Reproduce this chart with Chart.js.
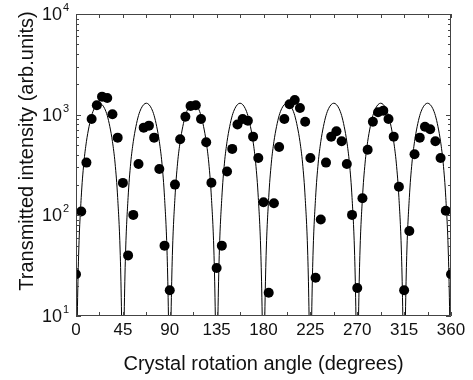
<!DOCTYPE html>
<html>
<head>
<meta charset="utf-8">
<script src="https://cdn.jsdelivr.net/npm/chart.js@4.4.0/dist/chart.umd.min.js"></script>
<style>
  html, body { margin: 0; padding: 0; background: #fff; }
</style>
</head>
<body>
<canvas id="myChart" width="473" height="380"></canvas>
<script>
// measured points (every 5 degrees)
const angles = [0, 5, 10, 15, 20, 25, 30, 35, 40, 45, 50, 55, 60, 65, 70, 75, 80, 85, 90,
  95, 100, 105, 110, 115, 120, 125, 130, 135, 140, 145, 150, 155, 160, 165, 170, 175, 180,
  185, 190, 195, 200, 205, 210, 215, 220, 225, 230, 235, 240, 245, 250, 255, 260, 265, 270,
  275, 280, 285, 290, 295, 300, 305, 310, 315, 320, 325, 330, 335, 340, 345, 350, 355, 360];
const intensity = [26, 109, 334, 906, 1240, 1510, 1465, 1010, 591, 210, 40, 101, 324, 743, 778, 591, 289, 50, 18,
  202, 570, 955, 1220, 1240, 906, 532, 211, 30, 50, 272, 457, 800, 906, 871, 605, 371, 135,
  17, 132, 478, 906, 1268, 1400, 1166, 851, 371, 24, 91, 334, 605, 684, 544, 324, 101, 19,
  148, 449, 851, 1056, 1096, 906, 605, 192, 18, 70, 405, 591, 760, 716, 544, 371, 111, 26];

// solid curve, one row per 45 degree lobe
const curveAngles = [
  0, 1.25, 2.5, 5, 7.5, 10, 12.5, 15, 17.5, 20, 22.5, 25, 27.5, 30, 32.5, 35, 37.5, 40, 42.5, 43.75,
  45, 46.25, 47.5, 50, 52.5, 55, 57.5, 60, 62.5, 65, 67.5, 70, 72.5, 75, 77.5, 80, 82.5, 85, 87.5, 88.75,
  90, 91.25, 92.5, 95, 97.5, 100, 102.5, 105, 107.5, 110, 112.5, 115, 117.5, 120, 122.5, 125, 127.5, 130, 132.5, 133.75,
  135, 136.25, 137.5, 140, 142.5, 145, 147.5, 150, 152.5, 155, 157.5, 160, 162.5, 165, 167.5, 170, 172.5, 175, 177.5, 178.75,
  180, 181.25, 182.5, 185, 187.5, 190, 192.5, 195, 197.5, 200, 202.5, 205, 207.5, 210, 212.5, 215, 217.5, 220, 222.5, 223.75,
  225, 226.25, 227.5, 230, 232.5, 235, 237.5, 240, 242.5, 245, 247.5, 250, 252.5, 255, 257.5, 260, 262.5, 265, 267.5, 268.75,
  270, 271.25, 272.5, 275, 277.5, 280, 282.5, 285, 287.5, 290, 292.5, 295, 297.5, 300, 302.5, 305, 307.5, 310, 312.5, 313.75,
  315, 316.25, 317.5, 320, 322.5, 325, 327.5, 330, 332.5, 335, 337.5, 340, 342.5, 345, 347.5, 350, 352.5, 355, 357.5, 358.75,
  360];
const curveValues = [
  1, 10, 40, 150, 330, 540, 760, 980, 1150, 1260, 1300, 1260, 1150, 980, 760, 540, 330, 150, 40, 10,
  1, 10, 40, 150, 330, 540, 760, 980, 1150, 1260, 1300, 1260, 1150, 980, 760, 540, 330, 150, 40, 10,
  1, 10, 40, 150, 330, 540, 760, 980, 1150, 1260, 1300, 1260, 1150, 980, 760, 540, 330, 150, 40, 10,
  1, 10, 40, 150, 330, 540, 760, 980, 1150, 1260, 1300, 1260, 1150, 980, 760, 540, 330, 150, 40, 10,
  1, 10, 40, 150, 330, 540, 760, 980, 1150, 1260, 1300, 1260, 1150, 980, 760, 540, 330, 150, 40, 10,
  1, 10, 40, 150, 330, 540, 760, 980, 1150, 1260, 1300, 1260, 1150, 980, 760, 540, 330, 150, 40, 10,
  1, 10, 40, 150, 330, 540, 760, 980, 1150, 1260, 1300, 1260, 1150, 980, 760, 540, 330, 150, 40, 10,
  1, 10, 40, 150, 330, 540, 760, 980, 1150, 1260, 1300, 1260, 1150, 980, 760, 540, 330, 150, 40, 10,
  1];

const xTickMarks = [0, 22.5, 45, 67.5, 90, 112.5, 135, 157.5, 180, 202.5, 225, 247.5, 270, 292.5, 315, 337.5, 360];
const yDecades = [10, 100, 1000, 10000];
const yExponents = ['1', '2', '3', '4'];
const yTitle = 'Transmitted intensity (arb.units)';

const FONT = '"Liberation Sans", Arial, Helvetica, sans-serif';

const points = [];
for (let i = 0; i < angles.length; i++) {
    points.push({ x: angles[i], y: intensity[i] });
}
const curve = [];
for (let i = 0; i < curveAngles.length; i++) {
    curve.push({ x: curveAngles[i], y: curveValues[i] });
}

// frame, inward ticks, 10^n labels and the y title
const frameTicks = {
    id: 'frameTicks',
    afterDatasetsDraw(chart) {
        const { ctx, chartArea: a, scales: { x, y } } = chart;
        ctx.save();
        ctx.strokeStyle = '#444';
        ctx.lineWidth = 1;
        ctx.beginPath();
        ctx.rect(a.left + 0.5, a.top + 0.5, a.right - a.left - 1, a.bottom - a.top - 1);
        xTickMarks.forEach(v => {
            const px = Math.round(x.getPixelForValue(v)) + 0.5;
            ctx.moveTo(px, a.bottom);
            ctx.lineTo(px, a.bottom - 4);
            ctx.moveTo(px, a.top);
            ctx.lineTo(px, a.top + 4);
        });
        for (let d = 10; d < 10000; d *= 10) {
            for (let m = 1; m <= 10; m++) {
                const py = Math.round(y.getPixelForValue(d * m)) + 0.5;
                const len = (m === 1 || m === 10) ? 5 : 3;
                ctx.moveTo(a.left, py);
                ctx.lineTo(a.left + len, py);
                ctx.moveTo(a.right, py);
                ctx.lineTo(a.right - len, py);
            }
        }
        ctx.stroke();

        ctx.fillStyle = '#111';
        yDecades.forEach((v, i) => {
            const py = y.getPixelForValue(v);
            ctx.font = '18px ' + FONT;
            ctx.textAlign = 'right';
            ctx.textBaseline = 'middle';
            ctx.fillText('10', a.left - 14, py + 1);
            ctx.font = '11px ' + FONT;
            ctx.textAlign = 'left';
            ctx.fillText(yExponents[i], a.left - 13, py - 6);
        });

        ctx.translate(27, 151);
        ctx.rotate(-Math.PI / 2);
        ctx.font = '20px ' + FONT;
        ctx.textAlign = 'center';
        ctx.textBaseline = 'middle';
        ctx.fillText(yTitle, 0, 0);
        ctx.restore();
    }
};

const ctx = document.getElementById('myChart');
new Chart(ctx, {
    type: 'scatter',
    data: {
        datasets: [
            {
                label: 'measured',
                data: points,
                backgroundColor: '#000',
                borderWidth: 0,
                pointRadius: 5,
                order: 0
            },
            {
                label: 'fit',
                data: curve,
                showLine: true,
                borderColor: '#000',
                borderWidth: 1,
                pointRadius: 0,
                cubicInterpolationMode: 'monotone',
                order: 1
            }
        ]
    },
    options: {
        responsive: false,
        animation: false,
        devicePixelRatio: 1,
        layout: { padding: { left: 0, right: 22, top: 14, bottom: 0 } },
        plugins: {
            legend: { display: false },
            tooltip: { enabled: false }
        },
        scales: {
            x: {
                type: 'linear',
                min: 0,
                max: 360,
                ticks: {
                    stepSize: 45,
                    autoSkip: false,
                    maxRotation: 0,
                    padding: 4,
                    color: '#111',
                    font: { family: FONT, size: 17 }
                },
                grid: { display: false, drawTicks: false },
                border: { display: false },
                title: {
                    display: true,
                    text: 'Crystal rotation angle (degrees)',
                    color: '#111',
                    font: { family: FONT, size: 20 },
                    padding: { top: 0, bottom: 4 }
                },
                afterFit: (axis) => { axis.height = 64; }
            },
            y: {
                type: 'logarithmic',
                min: 10,
                max: 10000,
                ticks: { display: false },
                grid: { display: false, drawTicks: false },
                border: { display: false },
                title: { display: false },
                afterFit: (axis) => { axis.width = 76; }
            }
        }
    },
    plugins: [frameTicks]
});
</script>
</body>
</html>
